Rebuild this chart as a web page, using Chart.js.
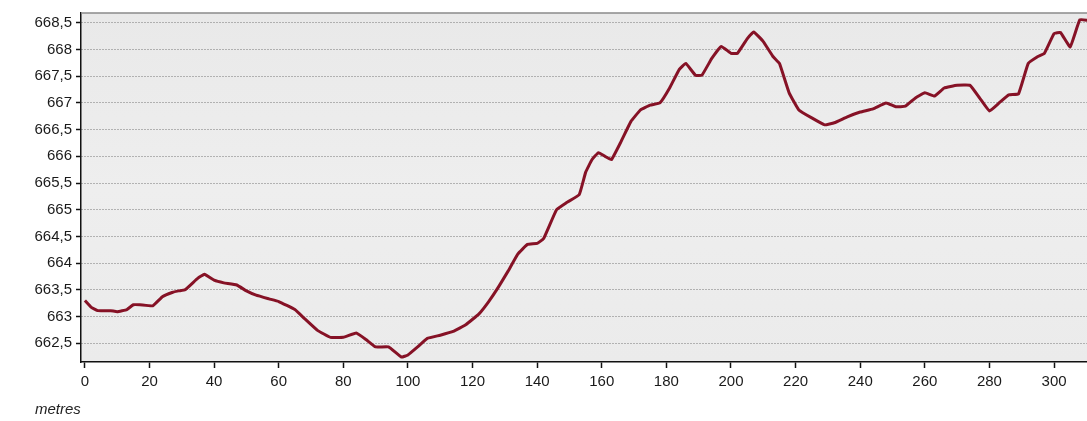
<!DOCTYPE html>
<html>
<head>
<meta charset="utf-8">
<script src="https://cdn.jsdelivr.net/npm/chart.js@4/dist/chart.umd.min.js"></script>
<style>
  html, body { margin: 0; padding: 0; background: #fff; }
  #wrap { width: 1087px; height: 421px; }
</style>
</head>
<body>
<div id="wrap"><canvas id="myChart"></canvas></div>
<script>
// distance along the profile (metres) and elevation
const distances = [0, 2, 4, 8, 10, 13, 15, 17, 21, 24, 27, 29, 31, 35, 37, 40, 43, 47, 50, 53, 57,
    60, 65, 68, 72, 76, 80, 84, 87, 90, 94, 98, 100, 103, 106, 110, 114, 118, 122, 125, 128, 131,
    134, 137, 140, 142, 146, 149, 153, 155, 157, 159, 161, 163, 166, 169, 172, 175, 178, 181, 184,
    186, 189, 191, 194, 197, 200, 202, 205, 207, 210, 213, 215, 218, 221, 225, 229, 232, 236, 240,
    244, 248, 251, 254, 257, 260, 263, 266, 270, 274, 277, 280, 283, 286, 289, 292, 295, 297, 300,
    302, 305, 308, 311];
const elevation = [663.30, 663.17, 663.11, 663.11, 663.09, 663.13, 663.22, 663.22, 663.20, 663.37,
    663.45, 663.48, 663.50, 663.72, 663.79, 663.68, 663.63, 663.59, 663.48, 663.40, 663.33,
    663.28, 663.13, 662.96, 662.74, 662.61, 662.61, 662.69, 662.57, 662.43, 662.43, 662.24, 662.28,
    662.43, 662.59, 662.65, 662.72, 662.85, 663.05, 663.28, 663.55, 663.85, 664.17, 664.35, 664.37,
    664.46, 665.00, 665.13, 665.28, 665.70, 665.94, 666.07, 666.00, 665.94, 666.28, 666.65, 666.87,
    666.96, 667.00, 667.28, 667.63, 667.74, 667.52, 667.52, 667.83, 668.06, 667.93, 667.93, 668.20,
    668.33, 668.15, 667.87, 667.74, 667.19, 666.87, 666.72, 666.59, 666.63, 666.74, 666.83, 666.89,
    667.00, 666.93, 666.94, 667.09, 667.19, 667.13, 667.28, 667.33, 667.33, 667.09, 666.85, 667.00,
    667.15, 667.17, 667.74, 667.87, 667.93, 668.30, 668.32, 668.05, 668.56, 668.54];
const xTicks = [0, 20, 40, 60, 80, 100, 120, 140, 160, 180, 200, 220, 240, 260, 280, 300];
const yTicks = [662.5, 663, 663.5, 664, 664.5, 665, 665.5, 666, 666.5, 667, 667.5, 668, 668.5];

const points = distances.map((d, i) => ({x: d, y: elevation[i]}));

const plotBack = {
    id: 'plotBack',
    beforeDraw(chart) {
        const {ctx, chartArea: a} = chart;
        ctx.save();
        const g = ctx.createLinearGradient(0, a.top, 0, a.bottom);
        g.addColorStop(0, '#e9e9e9');
        g.addColorStop(0.5, '#eeeeee');
        g.addColorStop(1, '#ebebeb');
        ctx.fillStyle = g;
        ctx.fillRect(a.left, a.top, a.right - a.left, a.bottom - a.top);
        ctx.restore();
    },
    afterDraw(chart) {
        const {ctx, chartArea: a} = chart;
        ctx.save();
        ctx.strokeStyle = '#8a8a8a';
        ctx.lineWidth = 1.5;
        ctx.beginPath();
        ctx.moveTo(a.left, a.top);
        ctx.lineTo(a.right, a.top);
        ctx.stroke();
        ctx.fillStyle = '#222';
        ctx.font = 'italic 15px "Liberation Sans", Arial, sans-serif';
        ctx.textBaseline = 'middle';
        ctx.fillText('metres', 35, 410);
        ctx.restore();
    }
};

const tickFont = {family: '"Liberation Sans", Arial, sans-serif', size: 15};

const config = {
    type: 'line',
    data: {
        datasets: [{
            label: 'Elevation',
            data: points,
            borderColor: '#861226',
            borderWidth: 3,
            pointRadius: 0,
            tension: 0.1,
            fill: false
        }]
    },
    options: {
        animation: false,
        responsive: true,
        maintainAspectRatio: false,
        layout: {padding: {top: 10, right: 0, bottom: 0, left: 0}},
        plugins: {legend: {display: false}, tooltip: {enabled: false}},
        scales: {
            x: {
                type: 'linear',
                min: -1.2,
                max: 310.2,
                afterBuildTicks: (s) => { s.ticks = xTicks.map(v => ({value: v})); },
                afterFit: (s) => { s.height = 59; },
                grid: {drawOnChartArea: false, drawTicks: true, tickLength: 6, tickColor: '#111', tickWidth: 1.5},
                border: {display: true, color: '#111', width: 1.5},
                ticks: {color: '#1a1a1a', font: tickFont, padding: 5, maxRotation: 0, autoSkip: false}
            },
            y: {
                min: 662.148,
                max: 668.685,
                afterBuildTicks: (s) => { s.ticks = yTicks.map(v => ({value: v})); },
                afterFit: (s) => { s.width = 81; },
                grid: {color: '#777777', lineWidth: 1, tickLength: 5, tickColor: '#111', tickWidth: 1.5, tickBorderDash: []},
                border: {display: true, color: '#111', width: 1.5, dash: [1, 2]},
                ticks: {
                    color: '#1a1a1a',
                    font: tickFont,
                    padding: 4,
                    callback: (v) => String(v).replace('.', ',')
                }
            }
        }
    },
    plugins: [plotBack]
};

const ctx = document.getElementById('myChart');
const chart = new Chart(ctx, config);
</script>
</body>
</html>
